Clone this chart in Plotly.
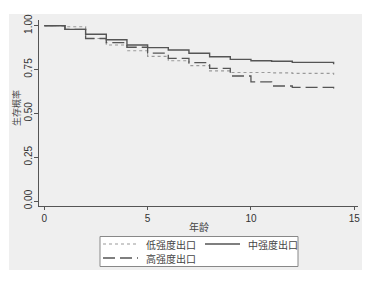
import plotly.graph_objects as go

# Data
years_low = [0, 1, 2, 3, 4, 5, 6, 7, 8, 9, 10, 11, 12, 14]
surv_low = [1.0, 0.994, 0.927, 0.890, 0.857, 0.825, 0.800, 0.772, 0.742, 0.733, 0.733, 0.731, 0.728, 0.720]

years_mid = [0, 1, 2, 3, 4, 5, 6, 7, 8, 9, 10, 11, 12, 14]
surv_mid = [1.0, 0.979, 0.951, 0.920, 0.890, 0.875, 0.861, 0.843, 0.823, 0.808, 0.800, 0.797, 0.791, 0.780]

years_high = [0, 1, 2, 3, 4, 5, 6, 7, 8, 9, 10, 11, 12, 14]
surv_high = [1.0, 0.979, 0.927, 0.903, 0.877, 0.843, 0.814, 0.789, 0.757, 0.713, 0.680, 0.656, 0.648, 0.634]

names = ["低强度出口", "中强度出口", "高强度出口"]
x_ticks = [0, 5, 10, 15]
y_ticks = [0, 0.25, 0.5, 0.75, 1.0]
y_ticklabels = ["0.00", "0.25", "0.50", "0.75", "1.00"]

OFF = 8  # default page body margin
W, H = 366, 275
ml, mr, mt, mb = 31, 16, 12, 77
pw, ph = W - ml - mr, H - mt - mb

font = "Liberation Sans, Arial, Noto Sans CJK SC"
cjk = "Noto Sans CJK SC"

styles = [
    dict(color="#9a9a9a", width=1.2, dash="dot"),
    dict(color="#555555", width=1.4, dash="solid"),
    dict(color="#555555", width=1.3, dash="12px,5px"),
]

fig = go.Figure()
for xs, ys, nm, st in zip([years_low, years_mid, years_high],
                          [surv_low, surv_mid, surv_high], names, styles):
    fig.add_trace(go.Scatter(x=xs, y=ys, mode="lines", name=nm, showlegend=False,
                             line=dict(shape="hv", **st)))


def px_x(p):  # screen pixel -> paper x
    return (p - OFF - ml) / pw


def px_y(p):  # screen pixel -> paper y
    return (H - mb - (p - OFF)) / ph


# outer gray panel
fig.add_shape(type="rect", xref="paper", yref="paper",
              x0=px_x(9), x1=px_x(362), y0=px_y(270), y1=px_y(14),
              fillcolor="#efefef", line=dict(width=0), layer="between")

# axis titles
fig.add_annotation(text="年龄", xref="paper", yref="paper", x=px_x(199), y=px_y(227),
                   xanchor="center", yanchor="middle",
                   showarrow=False, font=dict(family=cjk, size=10, color="#444"))
fig.add_annotation(text="生存概率", xref="paper", yref="paper", x=px_x(16), y=px_y(108),
                   xanchor="center", yanchor="middle",
                   showarrow=False, textangle=-90,
                   font=dict(family=cjk, size=9, color="#444"))

# manual legend
fig.add_shape(type="rect", xref="paper", yref="paper",
              x0=px_x(100), x1=px_x(298), y0=px_y(266.5), y1=px_y(236.5),
              fillcolor="white", line=dict(color="#888", width=1), layer="above")
legend_pos = [(103, 244), (205, 244), (103, 258)]
for (lx, ly), nm, st in zip(legend_pos, names, styles):
    fig.add_shape(type="line", xref="paper", yref="paper",
                  x0=px_x(lx), x1=px_x(lx + 35), y0=px_y(ly), y1=px_y(ly),
                  line=dict(color=st["color"], width=st["width"], dash=st["dash"]),
                  layer="above")
    fig.add_annotation(text=nm, xref="paper", yref="paper", x=px_x(lx + 41), y=px_y(ly),
                       xanchor="left", yanchor="middle", showarrow=False,
                       font=dict(family=cjk, size=10, color="#444"))

fig.update_layout(
    width=W, height=H,
    margin=dict(l=ml, r=mr, t=mt, b=mb, autoexpand=False),
    paper_bgcolor="white",
    plot_bgcolor="#efefef",
    font=dict(family=font, size=10, color="#333"),
    showlegend=False,
)
fig.update_xaxes(range=[-0.256, 15.18], tickvals=x_ticks, ticks="outside", ticklen=3,
                 tickcolor="#555", showline=True, linecolor="#555", linewidth=1,
                 showgrid=False, zeroline=False, tickfont=dict(size=10, color="#333"))
fig.update_yaxes(range=[-0.0285, 1.0325], tickvals=y_ticks, ticktext=y_ticklabels,
                 tickangle=-90, ticks="outside", ticklen=4, ticklabelstandoff=-2,
                 tickcolor="#555", showline=True, linecolor="#555", linewidth=1,
                 showgrid=False, zeroline=False, tickfont=dict(size=10, color="#333"))

fig.write_html("out.html")
